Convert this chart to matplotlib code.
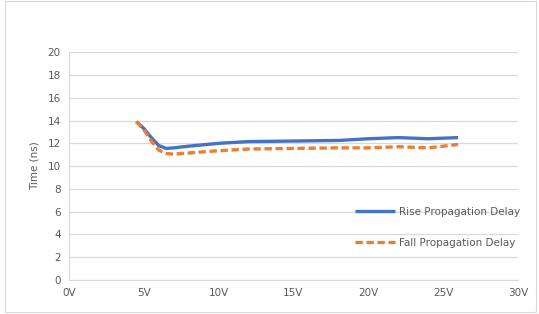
import matplotlib.pyplot as plt
from matplotlib.patches import Rectangle

volts = [4.5, 5, 5.5, 6, 6.5, 7, 8, 10, 12, 15, 18, 20, 22, 24, 26]
rise = [13.9, 13.3, 12.5, 11.8, 11.55, 11.6, 11.75, 12.0, 12.15, 12.2, 12.25, 12.4, 12.5, 12.4, 12.5]
fall = [13.9, 13.2, 12.2, 11.4, 11.1, 11.05, 11.15, 11.35, 11.5, 11.55, 11.6, 11.6, 11.7, 11.6, 11.9]
xticks = [0, 5, 10, 15, 20, 25, 30]
xtick_labels = ["0V", "5V", "10V", "15V", "20V", "25V", "30V"]
yticks = list(range(0, 21, 2))

fig = plt.figure(figsize=(5.39, 3.14), dpi=100)
ax = fig.add_axes([0.128, 0.108, 0.833, 0.726])

ax.plot(volts, rise, color="#4472C4", lw=2.4, solid_capstyle="butt", label="Rise Propagation Delay")
ax.plot(volts, fall, color="#ED7D31", lw=2.4, linestyle=(0, (2.2, 1.1)), label="Fall Propagation Delay")

ax.set_xlim(0, 30)
ax.set_ylim(0, 20)
ax.set_xticks(xticks)
ax.set_xticklabels(xtick_labels)
ax.set_yticks(yticks)
ax.grid(axis="y", color="#d9d9d9", lw=0.9)
ax.set_axisbelow(True)
for s in ["top", "right"]:
    ax.spines[s].set_visible(False)
ax.spines["left"].set_color("#d9d9d9")
ax.spines["bottom"].set_color("#d9d9d9")
ax.tick_params(length=0, labelsize=7.5, colors="#595959", pad=6)
ax.set_ylabel("Time (ns)", fontsize=7.5, color="#595959", labelpad=6)

leg = ax.legend(loc="lower right", bbox_to_anchor=(1.025, 0.1), frameon=False, fontsize=7.5,
                labelspacing=2.0, handlelength=3.8, handletextpad=0.4)
for t in leg.get_texts():
    t.set_color("#595959")

fig.patches.append(Rectangle((0.009, 0.006), 0.985, 0.99, transform=fig.transFigure,
                             fill=False, edgecolor="#d9d9d9", lw=0.8))

fig.savefig("out.png", dpi=100)
